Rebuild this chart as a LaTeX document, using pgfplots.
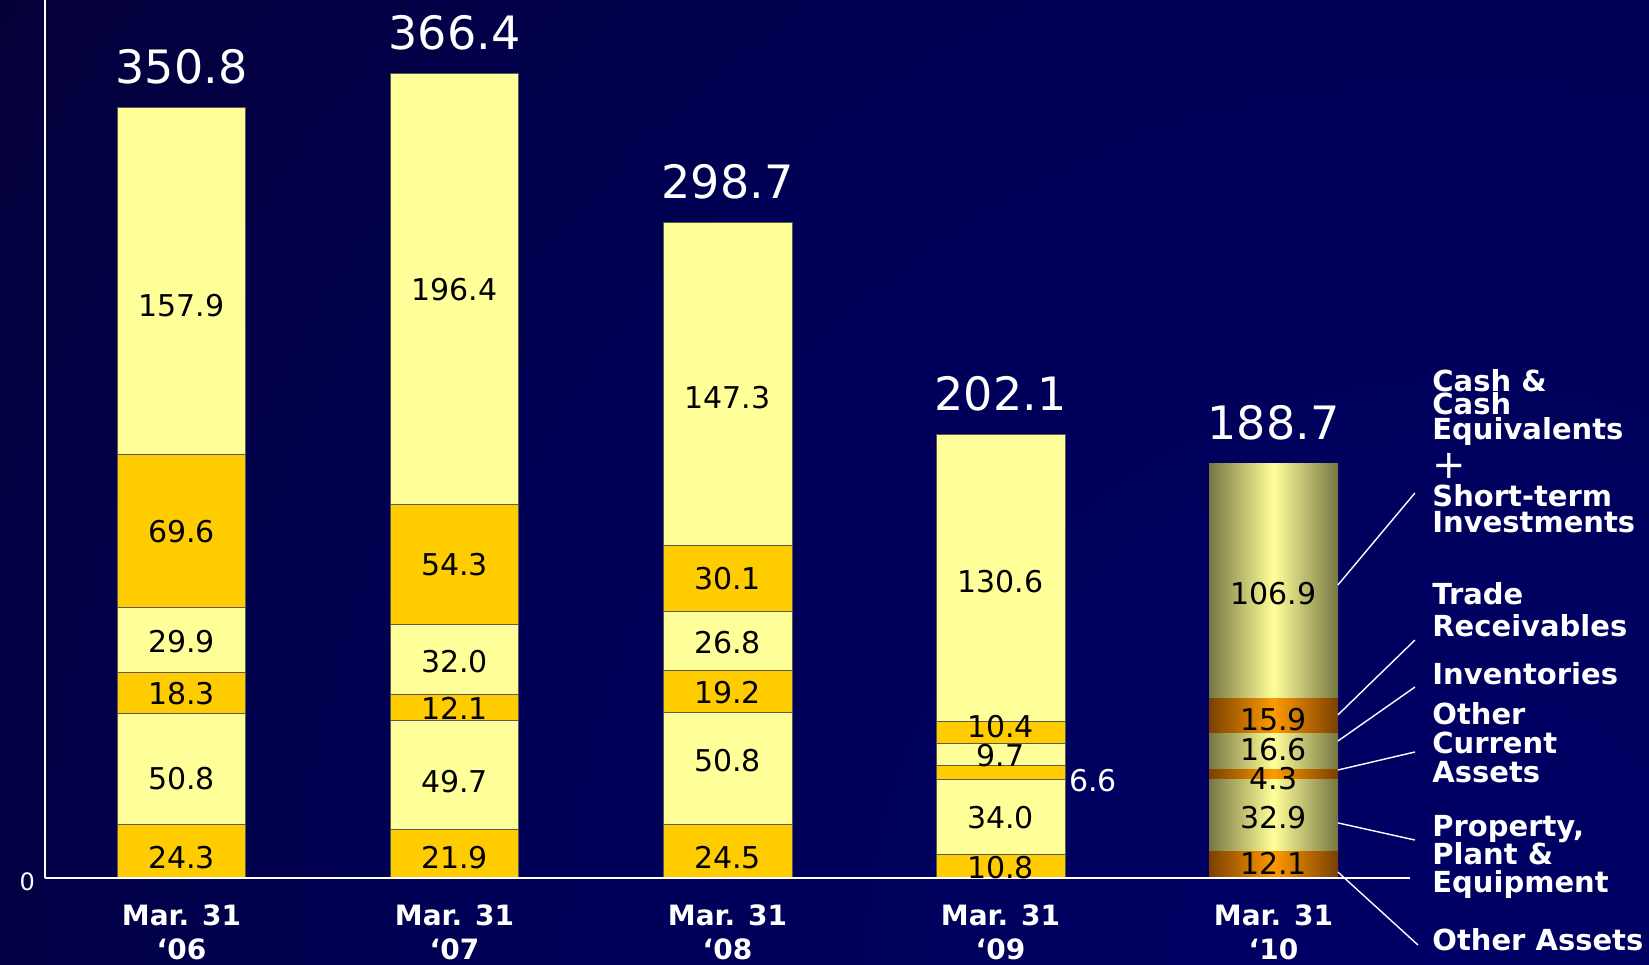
\documentclass[border=0pt]{standalone}
\usepackage{pgfplots}
\pgfplotsset{compat=1.18}
\usepackage{pgfplotstable}
\usepackage{fontspec}
\setmainfont{DejaVu Sans}

\definecolor{gold}{HTML}{FFCC00}
\definecolor{lighty}{HTML}{FFFF99}
\definecolor{segline}{HTML}{5A5A50}
\definecolor{oliveedge}{HTML}{767644}
\definecolor{orangeedge}{HTML}{7A4000}
\definecolor{orangemid}{HTML}{FF9900}
\definecolor{bgA}{HTML}{000066}
\definecolor{bgB}{HTML}{000056}
\definecolor{bgC}{HTML}{04002E}
\definecolor{bgD}{HTML}{040028}
\definecolor{bgE}{HTML}{04001A}

\pgfdeclareradialshading{bgshade}{\pgfpoint{0bp}{0bp}}{color(0bp)=(bgA); color(14bp)=(bgB); color(29bp)=(bgC); color(37bp)=(bgD); color(50bp)=(bgE)}

\newcommand\segfont{\fontsize{15}{18}\selectfont}
\newcommand\totfont{\fontsize{23}{27}\selectfont}
\newcommand\rlfont{\fontsize{14.5}{16}\selectfont\bfseries}
\newcommand\tickfont{\fontsize{14}{17}\selectfont\bfseries}

% x: 0..3 = Mar. 31 '06 .. '09 ; series bottom to top
\pgfplotstableread{
x oa ppe oca inv tr cash
0 24.3 50.8 18.3 29.9 69.6 157.9
1 21.9 49.7 12.1 32.0 54.3 196.4
2 24.5 50.8 19.2 26.8 30.1 147.3
3 10.8 34.0 6.6 9.7 10.4 130.6
}\dataA

% x: 4 = Mar. 31 '10
\pgfplotstableread{
x oa ppe oca inv tr cash
4 12.1 32.9 4.3 16.6 15.9 106.9
}\dataB

\pgfplotsset{
  base/.style={scale only axis, width=682.5pt, height=439pt,
    at={(22.5pt,43pt)}, anchor=south west,
    xmin=-0.5, xmax=4.5, ymin=0, ymax=400,
    ybar stacked, bar width=0.4725, clip=false},
  flatA/.style={draw=segline, line width=0.5pt, fill=gold},
  flatB/.style={draw=segline, line width=0.5pt, fill=lighty},
  cylA/.style={draw=none, left color=orangeedge, right color=orangeedge, middle color=orangemid},
  cylB/.style={draw=none, left color=oliveedge, right color=oliveedge, middle color=lighty},
}
\tikzset{sl/.style={anchor=center, font=\segfont, text=black, inner sep=0pt},
         tot/.style={anchor=base, yshift=12pt, text=white, font=\totfont}}

\begin{document}
\begin{tikzpicture}
\useasboundingbox (0,0) rectangle (824.5pt,482pt);
\begin{scope}
  \clip (0,0) rectangle (824.5pt,482pt);
  \fill[bgE] (0,0) rectangle (824.5pt,482pt);
  \shade[shading=bgshade] (725pt,0pt) circle (875pt);
\end{scope}

% last bar (Mar. 31 '10), cylinder shading
\begin{axis}[base, hide axis]
  \addplot[cylA] table[x=x, y=oa]   {\dataB};
  \addplot[cylB] table[x=x, y=ppe]  {\dataB};
  \addplot[cylA] table[x=x, y=oca]  {\dataB};
  \addplot[cylB] table[x=x, y=inv]  {\dataB};
  \addplot[cylA] table[x=x, y=tr]   {\dataB};
  \addplot[cylB] table[x=x, y=cash] {\dataB};
\end{axis}

% bars Mar. 31 '06 .. '09 and the axis
\begin{axis}[base, axis on top,
    axis x line*=bottom, axis y line*=left,
    axis line style={-, white, line width=1.1pt},
    x axis line style={-}, y axis line style={-},
    major tick length=0pt,
    xtick={0,1,2,3,4},
    xticklabels={{Mar. 31\\‘06},{Mar. 31\\‘07},{Mar. 31\\‘08},{Mar. 31\\‘09},{Mar. 31\\‘10}},
    xticklabel style={text=white, font=\tickfont, align=center, yshift=-10pt},
    ytick={0}, yticklabels={0},
    yticklabel style={text=white, font=\fontsize{12}{14}\selectfont, xshift=-1.5pt, yshift=-2pt},
    /pgf/number format/assume math mode=true]
  \addplot[flatA] table[x=x, y=oa]   {\dataA};
  \addplot[flatB] table[x=x, y=ppe]  {\dataA};
  \addplot[flatA] table[x=x, y=oca]  {\dataA};
  \addplot[flatB] table[x=x, y=inv]  {\dataA};
  \addplot[flatA] table[x=x, y=tr]   {\dataA};
  \addplot[flatB] table[x=x, y=cash] {\dataA};
\end{axis}

% value labels and leader lines
\begin{axis}[base, hide axis]
  \node[sl] at (axis cs:0,9.5)   {24.3};
  \node[sl] at (axis cs:0,45.1)  {50.8};
  \node[sl] at (axis cs:0,83.8)  {18.3};
  \node[sl] at (axis cs:0,107.7) {29.9};
  \node[sl] at (axis cs:0,157.6) {69.6};
  \node[sl] at (axis cs:0,260.6) {157.9};
  \node[sl] at (axis cs:1,9.5)   {21.9};
  \node[sl] at (axis cs:1,44.0)  {49.7};
  \node[sl] at (axis cs:1,77.5)  {12.1};
  \node[sl] at (axis cs:1,98.6)  {32.0};
  \node[sl] at (axis cs:1,142.6) {54.3};
  \node[sl] at (axis cs:1,267.9) {196.4};
  \node[sl] at (axis cs:2,9.5)   {24.5};
  \node[sl] at (axis cs:2,53.6)  {50.8};
  \node[sl] at (axis cs:2,84.7)  {19.2};
  \node[sl] at (axis cs:2,107.3) {26.8};
  \node[sl] at (axis cs:2,136.4) {30.1};
  \node[sl] at (axis cs:2,218.9) {147.3};
  \node[sl] at (axis cs:3,4.7)   {10.8};
  \node[sl] at (axis cs:3,27.3)  {34.0};
  \node[sl] at (axis cs:3,56.0)  {9.7};
  \node[sl] at (axis cs:3,68.8)  {10.4};
  \node[sl] at (axis cs:3,135.0) {130.6};
  \node[sl] at (axis cs:4,6.8)   {12.1};
  \node[sl] at (axis cs:4,27.3)  {32.9};
  \node[sl] at (axis cs:4,45.1)  {4.3};
  \node[sl] at (axis cs:4,58.3)  {16.6};
  \node[sl] at (axis cs:4,72.4)  {15.9};
  \node[sl] at (axis cs:4,129.4) {106.9};
  % Other Current Assets of Mar. 31 '09, set beside the bar
  \node[anchor=west, text=white, font=\segfont, inner sep=0pt] at (axis cs:3.25,44.2) {6.6};

  % totals
  \node[tot] at (axis cs:0,350.8) {350.8};
  \node[tot] at (axis cs:1,366.4) {366.4};
  \node[tot] at (axis cs:2,298.7) {298.7};
  \node[tot] at (axis cs:3,202.1) {202.1};
  \node[tot] at (axis cs:4,188.7) {188.7};

  % leader lines for the '10 bar
  \draw[white, line width=0.7pt] (axis cs:4.236,133.5) -- (axis cs:4.518,175.4);
  \draw[white, line width=0.7pt] (axis cs:4.236,74.3)  -- (axis cs:4.518,108.4);
  \draw[white, line width=0.7pt] (axis cs:4.236,62.4)  -- (axis cs:4.518,87.0);
  \draw[white, line width=0.7pt] (axis cs:4.236,49.2)  -- (axis cs:4.518,57.4);
  \draw[white, line width=0.7pt] (axis cs:4.236,25.1)  -- (axis cs:4.518,17.3);
  \draw[white, line width=0.7pt] (axis cs:4.236,2.7)   -- (axis cs:4.529,-30.5);
\end{axis}

\tikzset{rl/.style={anchor=base west, text=white, font=\rlfont, inner sep=0pt}}
\node[rl] at (716pt,286pt) {Cash \&};
\node[rl] at (716pt,274.5pt) {Cash};
\node[rl] at (716pt,262pt) {Equivalents};
\node[anchor=west, inner sep=0pt, text=white, font=\fontsize{20}{20}\selectfont] at (716pt,249pt) {+};
\node[rl] at (716pt,228.5pt) {Short-term};
\node[rl] at (716pt,215.5pt) {Investments};
\node[rl] at (716pt,179.5pt) {Trade};
\node[rl] at (716pt,163.5pt) {Receivables};
\node[rl] at (716pt,139.5pt) {Inventories};
\node[rl] at (716pt,119.5pt) {Other};
\node[rl] at (716pt,105pt) {Current};
\node[rl] at (716pt,90.5pt) {Assets};
\node[rl] at (716pt,63.5pt) {Property,};
\node[rl] at (716pt,49.5pt) {Plant \&};
\node[rl] at (716pt,35.5pt) {Equipment};
\node[rl] at (716pt,7pt) {Other Assets};
\end{tikzpicture}
\end{document}
